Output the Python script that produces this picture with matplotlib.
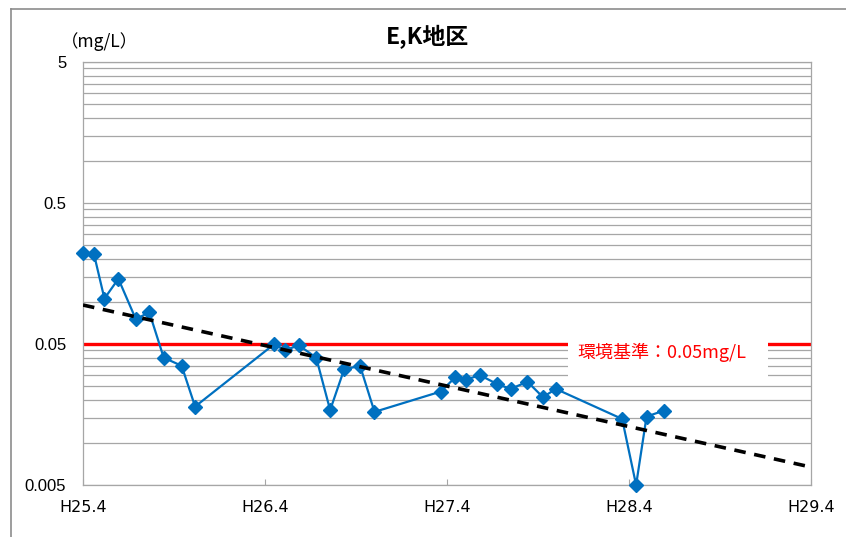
import matplotlib
matplotlib.use("Agg")
import matplotlib.pyplot as plt
import matplotlib.dates as mdates
from matplotlib.patches import Rectangle
from matplotlib.lines import Line2D
import numpy as np
import datetime as dt

plt.rcParams['font.family'] = ['Noto Sans CJK JP', 'DejaVu Sans']

# ---- data ----
dates = ["2013-04-01", "2013-04-23", "2013-05-14", "2013-06-11", "2013-07-16",
         "2013-08-12", "2013-09-10", "2013-10-16", "2013-11-12",
         "2014-04-20", "2014-05-11", "2014-06-08", "2014-07-13", "2014-08-10",
         "2014-09-07", "2014-10-09", "2014-11-07",
         "2015-03-20", "2015-04-18", "2015-05-09", "2015-06-07", "2015-07-11",
         "2015-08-07", "2015-09-10", "2015-10-11", "2015-11-06",
         "2016-03-18", "2016-04-15", "2016-05-06", "2016-06-09"]
values = [0.222, 0.217, 0.105, 0.145, 0.075,
          0.084, 0.040, 0.035, 0.018,
          0.050, 0.045, 0.049, 0.040, 0.017,
          0.033, 0.035, 0.0165,
          0.023, 0.029, 0.028, 0.030, 0.026,
          0.024, 0.027, 0.021, 0.024,
          0.0147, 0.005, 0.0153, 0.0168]
trend_dates = ["2013-04-01", "2017-04-01"]
trend_values = [0.0945, 0.0067]
standard_value = 0.05
standard_label = "環境基準：0.05mg/L"
x_tick_dates = ["2013-04-01", "2014-04-01", "2015-04-01", "2016-04-01", "2017-04-01"]
x_tick_labels = ["H25.4", "H26.4", "H27.4", "H28.4", "H29.4"]
y_ticks = [0.005, 0.05, 0.5, 5]
y_tick_labels = ["0.005", "0.05", "0.5", "5"]
title = "E,K地区"
unit_label = "（mg/L）"

to_dt = lambda s: dt.datetime.strptime(s, "%Y-%m-%d")
xd = [to_dt(s) for s in dates]
td = [to_dt(s) for s in trend_dates]
xt = [to_dt(s) for s in x_tick_dates]

W, H = 846, 537
fig = plt.figure(figsize=(W / 100, H / 100), dpi=100)
ax = fig.add_axes([83 / W, (H - 485) / H, (811 - 83) / W, (485 - 62) / H])

ax.set_yscale('log')
ax.set_ylim(0.005, 5)
ax.set_xlim(xt[0], xt[-1])

# horizontal gridlines at Excel-style minor units (multiples of the decade start)
grid_vals = []
for base in [0.005, 0.05, 0.5]:
    for k in range(1, 10):
        grid_vals.append(base * k)
grid_vals.append(5)
for g in grid_vals:
    ax.axhline(g, color='#a6a6a6', lw=0.9, zorder=1)

# standard line
ax.axhline(standard_value, color='#ff0000', lw=2.4, zorder=2)

# label box
ax.add_patch(Rectangle(((568 - 83) / 728, (485 - 380) / 423), (768 - 568) / 728, (380 - 324) / 423,
                       transform=ax.transAxes, facecolor='white', edgecolor='none', zorder=3))
ax.text((577 - 83) / 728, (485 - 352) / 423, standard_label, transform=ax.transAxes,
        color='#ff0000', fontsize=13, va='center', ha='left', zorder=4)

# data
ax.plot(xd, values, color='#0070c0', lw=1.6, marker='D', markersize=7.5,
        markeredgecolor='#0070c0', markerfacecolor='#0070c0', zorder=5, clip_on=False)

# trend
ax.plot(td, trend_values, color='black', lw=2.6, dashes=(3.2, 2.4), zorder=6)

# axes styling
for s in ax.spines.values():
    s.set_color('#a6a6a6')
    s.set_linewidth(0.9)
ax.set_xticks(xt)
ax.set_xticklabels(x_tick_labels, family=['Liberation Sans Narrow', 'DejaVu Sans'], fontsize=11.5)
ax.tick_params(axis='x', direction='in', length=4, color='#a6a6a6', pad=11)
ax.set_yticks(y_ticks)
ax.set_yticklabels(y_tick_labels, family=['Liberation Sans', 'DejaVu Sans'], fontsize=12)
ax.yaxis.set_minor_locator(matplotlib.ticker.NullLocator())
ax.tick_params(axis='y', length=0, pad=12)

fig.text(427 / W, 1 - 37 / H, title, ha='center', va='center', fontsize=16.5, fontweight='bold')
fig.text(99 / W, 1 - 42 / H, unit_label, ha='center', va='center', fontsize=12.5)

# outer frame (left and top edges)
fig.add_artist(Line2D([10.5 / W, 10.5 / W], [0, 1 - 8.5 / H], transform=fig.transFigure,
                      color='#8c8c8c', lw=1.2))
fig.add_artist(Line2D([10.5 / W, 1], [1 - 8.5 / H, 1 - 8.5 / H], transform=fig.transFigure,
                      color='#8c8c8c', lw=1.2))

fig.savefig("out.png", dpi=100)
